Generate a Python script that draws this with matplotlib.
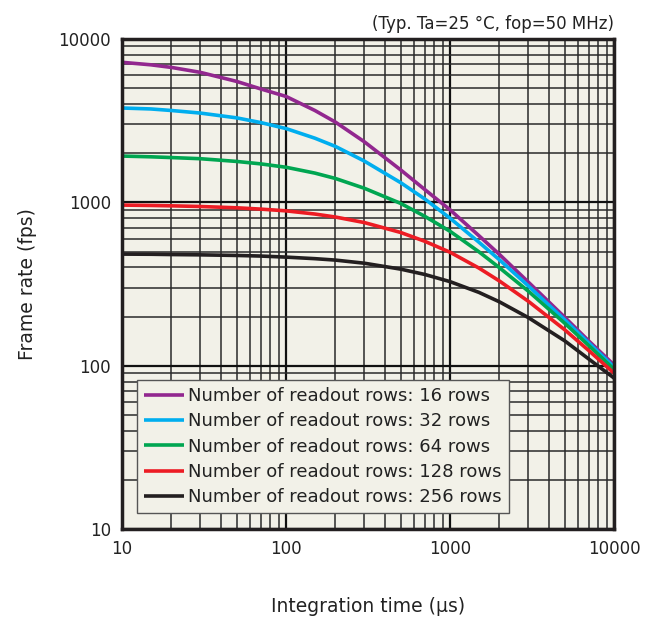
import matplotlib
matplotlib.use("Agg")
import matplotlib.pyplot as plt
from matplotlib.ticker import LogLocator, FixedLocator, NullFormatter

# integration time (us) and frame rate (fps)
t_int = [10, 15, 20, 30, 50, 70, 100, 150, 200, 300, 500, 700,
         1000, 1500, 2000, 3000, 5000, 7000, 10000]
fps_16 = [7200, 6950, 6700, 6250, 5500, 4950, 4450, 3650, 3100, 2350, 1580, 1200,
          900, 625, 480, 325, 198, 142, 101]
fps_32 = [3780, 3730, 3650, 3520, 3290, 3080, 2830, 2470, 2200, 1790, 1320, 1050,
          800, 570, 445, 308, 191, 138, 98]
fps_64 = [1920, 1900, 1880, 1850, 1780, 1720, 1640, 1510, 1400, 1220, 985, 822,
          665, 498, 398, 286, 182, 133, 95]
fps_128 = [962, 957, 952, 943, 926, 909, 887, 848, 813, 752, 654, 578,
           495, 396, 330, 248, 166, 124, 90]
fps_256 = [482, 481, 479, 477, 473, 469, 462, 452, 443, 424, 390, 362,
           327, 281, 246, 197, 142, 110, 84]

series = [
    ("Number of readout rows: 16 rows", fps_16, "#92278f"),
    ("Number of readout rows: 32 rows", fps_32, "#00aeef"),
    ("Number of readout rows: 64 rows", fps_64, "#00a651"),
    ("Number of readout rows: 128 rows", fps_128, "#ed1c24"),
    ("Number of readout rows: 256 rows", fps_256, "#231f20"),
]

bg = "#f2f1e8"

fig = plt.figure(figsize=(6.57, 6.22), dpi=100)
ax = fig.add_axes([0.1857, 0.1495, 0.7489, 0.7878])
ax.set_facecolor(bg)

for label, vals, col in series:
    ax.plot(t_int, vals, color=col, lw=2.6, label=label, zorder=3,
            solid_capstyle="butt", solid_joinstyle="round")

ax.set_xscale("log")
ax.set_yscale("log")
ax.set_xlim(10, 10000)
ax.set_ylim(10, 10000)

ax.xaxis.set_major_locator(FixedLocator([10, 100, 1000, 10000]))
ax.yaxis.set_major_locator(FixedLocator([10, 100, 1000, 10000]))
ax.xaxis.set_minor_locator(LogLocator(base=10, subs=range(2, 10)))
ax.yaxis.set_minor_locator(LogLocator(base=10, subs=range(2, 10)))
ax.xaxis.set_minor_formatter(NullFormatter())
ax.yaxis.set_minor_formatter(NullFormatter())
ax.set_xticklabels(["10", "100", "1000", "10000"])
ax.set_yticklabels(["10", "100", "1000", "10000"])

ax.grid(which="major", color="#111111", lw=1.6, zorder=1)
ax.grid(which="minor", color="#2a2a2a", lw=1.1, zorder=1)
ax.tick_params(which="both", length=0, labelsize=12, colors="#222222")
ax.tick_params(axis="x", pad=8)
ax.tick_params(axis="y", pad=8)

for sp in ax.spines.values():
    sp.set_linewidth(2.5)
    sp.set_color("#231f20")
    sp.set_zorder(4)

ax.set_xlabel("Integration time (\u00b5s)", fontsize=13.5, color="#222222", labelpad=28)
ax.set_ylabel("Frame rate (fps)", fontsize=13.5, color="#222222", labelpad=15)

ax.text(1.0, 1.012, "(Typ. Ta=25 \u00b0C, fop=50 MHz)", transform=ax.transAxes,
        ha="right", va="bottom", fontsize=12, color="#222222")

leg = ax.legend(loc="lower left", bbox_to_anchor=(0.03, 0.032), fontsize=13,
                frameon=True, fancybox=False, handlelength=2.2, handletextpad=0.25,
                labelspacing=0.4, borderpad=0.4, borderaxespad=0)
leg.get_frame().set_facecolor(bg)
leg.get_frame().set_edgecolor("#555555")
leg.get_frame().set_linewidth(1.0)
leg.get_frame().set_alpha(1)
leg.set_zorder(5)
for txt in leg.get_texts():
    txt.set_color("#222222")

fig.savefig("out.png", dpi=100, facecolor="white")
